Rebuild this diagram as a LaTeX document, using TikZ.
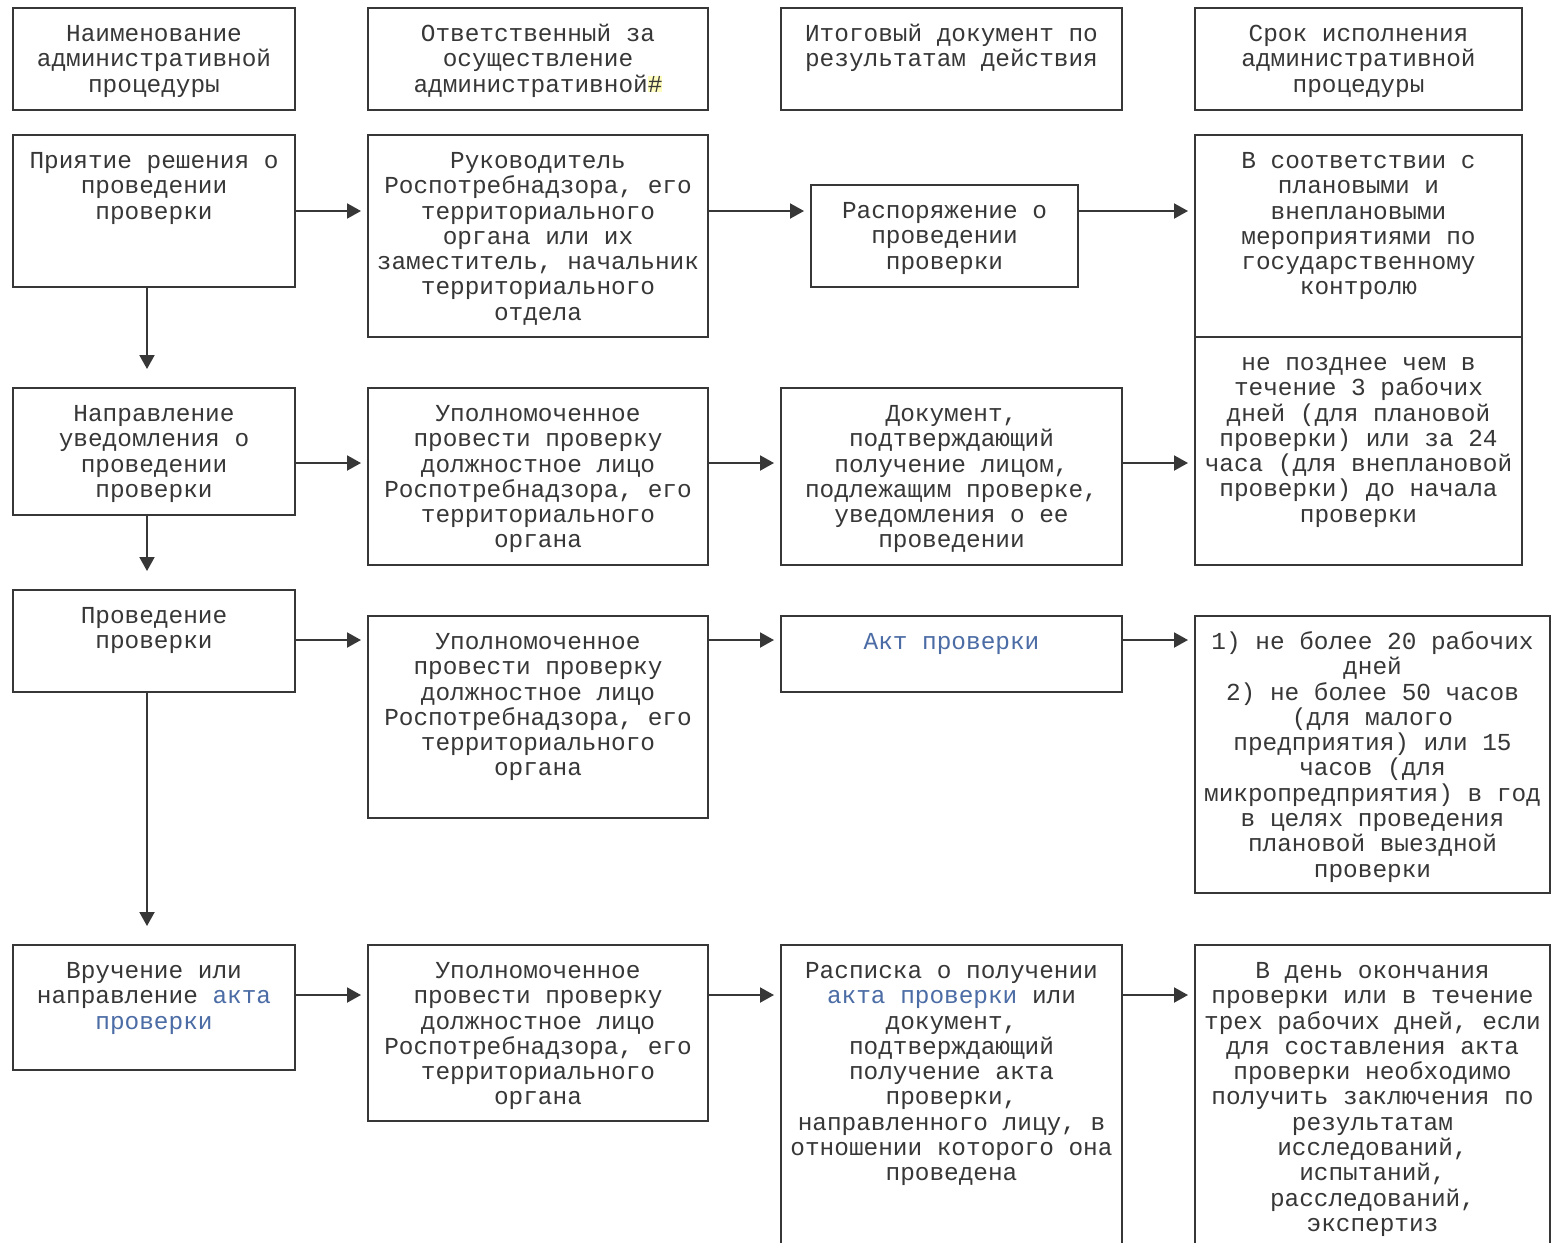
\documentclass[tikz,border=0pt]{standalone}
\usepackage{fontspec}
\newfontfamily\cour{Liberation Mono}
\usetikzlibrary{fit,arrows.meta}
\definecolor{ln}{RGB}{55,55,55}
\definecolor{tx}{RGB}{55,55,55}
\definecolor{lk}{RGB}{75,108,165}
\newcommand\lnk[1]{\textcolor{lk}{#1}}
\newcommand\frs{\rule{0pt}{10pt}}
\newcommand\txtfont{\cour\fontsize{12.2}{12.65}\selectfont\lineskiplimit=-8pt\relax}
\begin{document}
\begin{tikzpicture}[x=0.5pt,y=-0.5pt,
  box/.style={draw=ln, line width=1pt, inner sep=0pt},
  txt/.style={font={\txtfont}, text=tx, align=center, inner sep=0pt, anchor=north},
  arr/.style={draw=ln, line width=1pt, -{Triangle[length=7pt,width=7.5pt]}, shorten >=3pt},
  varr/.style={draw=ln, line width=1pt, -{Triangle[length=7pt,width=7.5pt]}, shorten >=9pt}]
\useasboundingbox (0,0) rectangle (1551,1242);
\clip (0,0) rectangle (1551,1242);
\fill[white] (0,0) rectangle (1551,1242);

% header
\node[box, fit={(13,8) (295,110)}] (H1) {};
\node[box, fit={(368,8) (708,110)}] (H2) {};
\node[box, fit={(781,8) (1122,110)}] (H3) {};
\node[box, fit={(1195,8) (1522,110)}] (H4) {};
\node[txt] (tH1) at ([yshift=-7pt]H1.north) {\frs Наименование\\административной\\процедуры};
\node[txt] (tH2) at ([yshift=-7pt]H2.north) {\frs Ответственный за\\осуществление\\административной{\fboxsep=0pt\colorbox{yellow!25}{\#}}};
\node[txt] (tH3) at ([yshift=-7pt]H3.north) {\frs Итоговый документ по\\результатам действия};
\node[txt] (tH4) at ([yshift=-7pt]H4.north) {\frs Срок исполнения\\административной\\процедуры};

% row A
\node[box, fit={(13,135) (295,287)}] (A1) {};
\node[box, fit={(368,135) (708,337)}] (A2) {};
\node[box, fit={(811,185) (1078,287)}] (A3) {};
\node[box, fit={(1195,135) (1522,337)}] (A4) {};
\node[txt] (tA1) at ([yshift=-7pt]A1.north) {\frs Приятие решения о\\проведении\\проверки};
\node[txt] (tA2) at ([yshift=-7pt]A2.north) {\frs Руководитель\\Роспотребнадзора, его\\территориального\\органа или их\\заместитель, начальник\\территориального\\отдела};
\node[txt] (tA3) at ([yshift=-7pt]A3.north) {\frs Распоряжение о\\проведении\\проверки};
\node[txt] (tA4) at ([yshift=-7pt]A4.north) {\frs В соответствии с\\плановыми и\\внеплановыми\\мероприятиями по\\государственному\\контролю};

% row B
\node[box, fit={(13,388) (295,515)}] (B1) {};
\node[box, fit={(368,388) (708,565)}] (B2) {};
\node[box, fit={(781,388) (1122,565)}] (B3) {};
\node[box, fit={(1195,337) (1522,565)}] (B4) {};
\node[txt] (tB1) at ([yshift=-7pt]B1.north) {\frs Направление\\уведомления о\\проведении\\проверки};
\node[txt] (tB2) at ([yshift=-7pt]B2.north) {\frs Уполномоченное\\провести проверку\\должностное лицо\\Роспотребнадзора, его\\территориального\\органа};
\node[txt] (tB3) at ([yshift=-7pt]B3.north) {\frs Документ,\\подтверждающий\\получение лицом,\\подлежащим проверке,\\уведомления о ее\\проведении};
\node[txt] (tB4) at ([yshift=-7pt]B4.north) {\frs не позднее чем в\\течение 3 рабочих\\дней (для плановой\\проверки) или за 24\\часа (для внеплановой\\проверки) до начала\\проверки};

% row C
\node[box, fit={(13,590) (295,692)}] (C1) {};
\node[box, fit={(368,616) (708,818)}] (C2) {};
\node[box, fit={(781,616) (1122,692)}] (C3) {};
\node[box, fit={(1195,616) (1550,893)}] (C4) {};
\node[txt] (tC1) at ([yshift=-7pt]C1.north) {\frs Проведение\\проверки};
\node[txt] (tC2) at ([yshift=-7pt]C2.north) {\frs Уполномоченное\\провести проверку\\должностное лицо\\Роспотребнадзора, его\\территориального\\органа};
\node[txt] (tC3) at ([yshift=-7pt]C3.north) {\frs \lnk{Акт проверки}};
\node[txt] (tC4) at ([yshift=-7pt]C4.north) {\frs 1) не более 20 рабочих\\дней\\2) не более 50 часов\\(для малого\\предприятия) или 15\\часов (для\\микропредприятия) в год\\в целях проведения\\плановой выездной\\проверки};

% row D
\node[box, fit={(13,945) (295,1070)}] (D1) {};
\node[box, fit={(368,945) (708,1121)}] (D2) {};
\node[box, fit={(781,945) (1122,1270)}] (D3) {};
\node[box, fit={(1195,945) (1550,1270)}] (D4) {};
\node[txt] (tD1) at ([yshift=-7pt]D1.north) {\frs Вручение или\\направление \lnk{акта}\\\lnk{проверки}};
\node[txt] (tD2) at ([yshift=-7pt]D2.north) {\frs Уполномоченное\\провести проверку\\должностное лицо\\Роспотребнадзора, его\\территориального\\органа};
\node[txt] (tD3) at ([yshift=-7pt]D3.north) {\frs Расписка о получении\\\lnk{акта проверки} или\\документ,\\подтверждающий\\получение акта\\проверки,\\направленного лицу, в\\отношении которого она\\проведена};
\node[txt] (tD4) at ([yshift=-7pt]D4.north) {\frs В день окончания\\проверки или в течение\\трех рабочих дней, если\\для составления акта\\проверки необходимо\\получить заключения по\\результатам\\исследований,\\испытаний,\\расследований,\\экспертиз};

% connectors
\coordinate (ra) at (0,211);
\coordinate (rb) at (0,463);
\coordinate (rc) at (0,640);
\coordinate (rd) at (0,995);
\coordinate (vx) at (147,0);
\draw[arr] (A1.east|-ra) -- (A2.west|-ra);
\draw[arr] (A2.east|-ra) -- (A3.west|-ra);
\draw[arr] (A3.east|-ra) -- (A4.west|-ra);
\draw[arr] (B1.east|-rb) -- (B2.west|-rb);
\draw[arr] (B2.east|-rb) -- (B3.west|-rb);
\draw[arr] (B3.east|-rb) -- (B4.west|-rb);
\draw[arr] (C1.east|-rc) -- (C2.west|-rc);
\draw[arr] (C2.east|-rc) -- (C3.west|-rc);
\draw[arr] (C3.east|-rc) -- (C4.west|-rc);
\draw[arr] (D1.east|-rd) -- (D2.west|-rd);
\draw[arr] (D2.east|-rd) -- (D3.west|-rd);
\draw[arr] (D3.east|-rd) -- (D4.west|-rd);
\draw[varr] (vx|-A1.south) -- (vx|-B1.north);
\draw[varr] (vx|-B1.south) -- (vx|-C1.north);
\draw[varr] (vx|-C1.south) -- (vx|-D1.north);
\end{tikzpicture}
\end{document}
